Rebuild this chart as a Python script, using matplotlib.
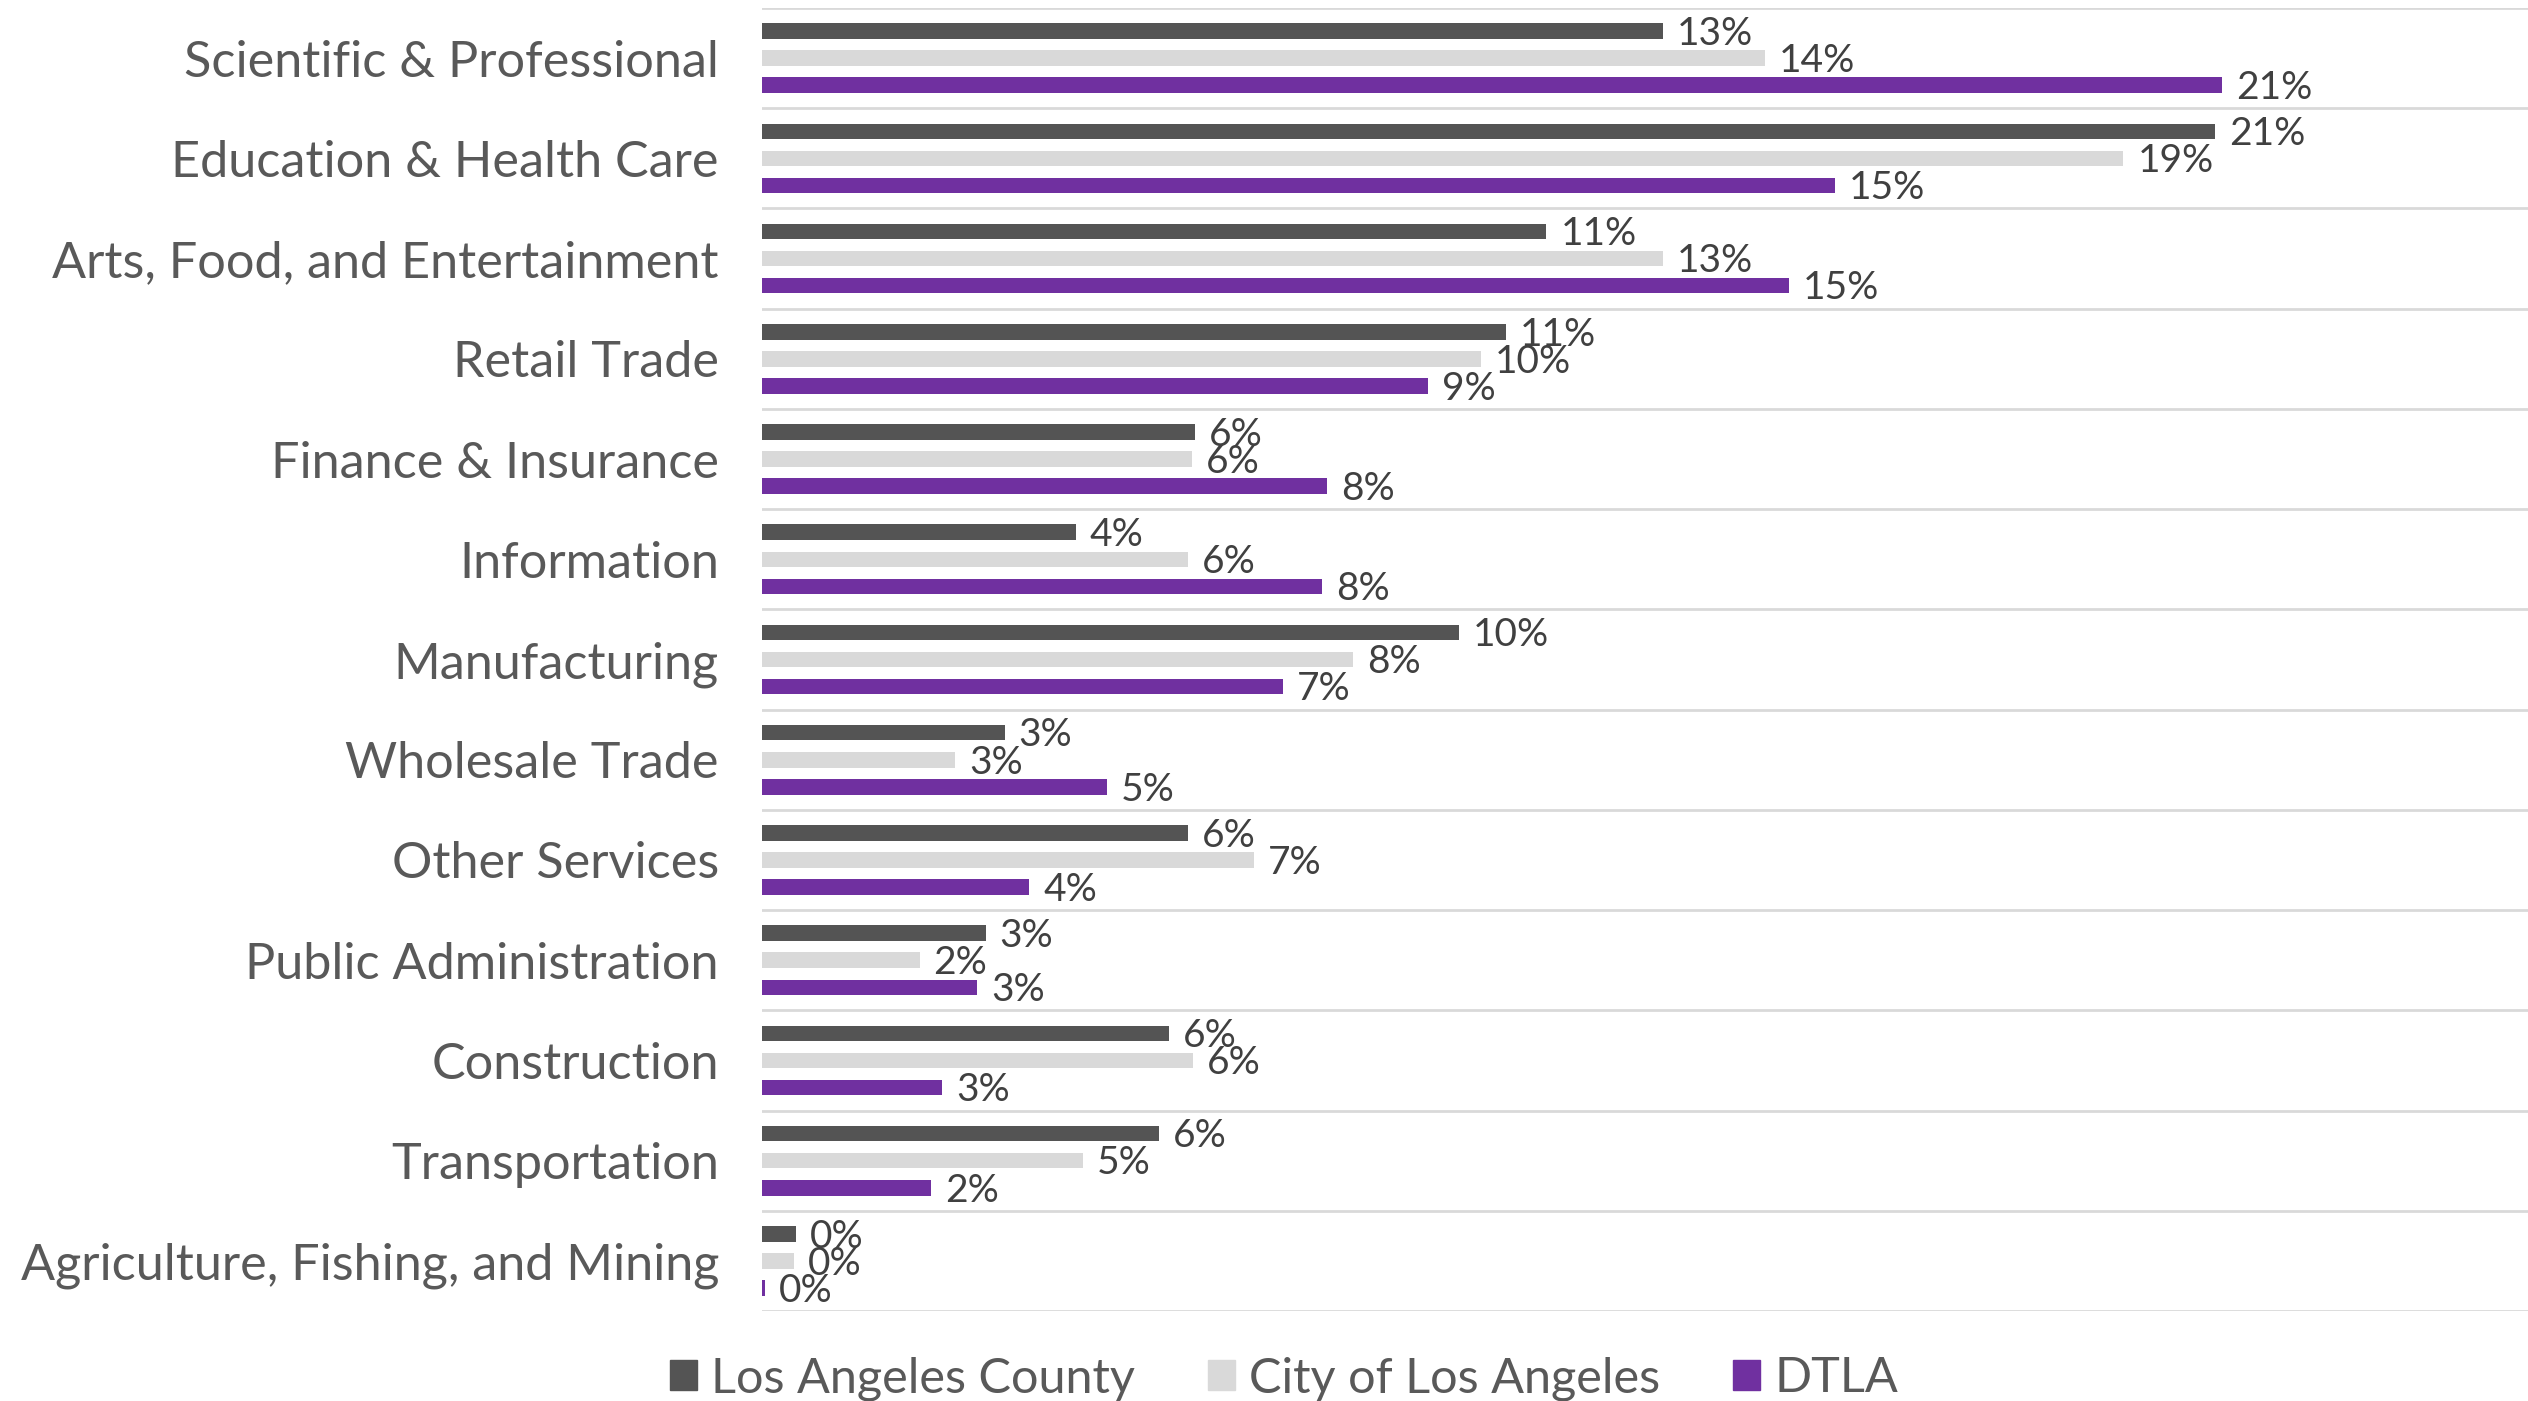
import numpy as np
import matplotlib
matplotlib.use("Agg")
import matplotlib.pyplot as plt
from matplotlib.patches import Patch

# --------------------------------------------------------------------------
# data (share of jobs, %)
# --------------------------------------------------------------------------
categories = [
    "Scientific & Professional",
    "Education & Health Care",
    "Arts, Food, and Entertainment",
    "Retail Trade",
    "Finance & Insurance",
    "Information",
    "Manufacturing",
    "Wholesale Trade",
    "Other Services",
    "Public Administration",
    "Construction",
    "Transportation",
    "Agriculture, Fishing, and Mining",
]
la_county = [12.8, 20.65, 11.15, 10.57, 6.15, 4.46, 9.9, 3.45, 6.05, 3.18, 5.78, 5.64, 0.48]
la_city = [14.25, 19.35, 12.8, 10.22, 6.11, 6.06, 8.4, 2.75, 7.0, 2.24, 6.12, 4.56, 0.45]
dtla = [20.75, 15.25, 14.6, 9.47, 8.03, 7.96, 7.4, 4.9, 3.8, 3.06, 2.56, 2.4, 0.05]

series = [("Los Angeles County", la_county, "#545454"),
          ("City of Los Angeles", la_city, "#d9d9d9"),
          ("DTLA", dtla, "#7030a0")]

plt.rcParams["font.family"] = ["Lato", "DejaVu Sans"]

fig = plt.figure(figsize=(25.28, 14.01), dpi=100)
ax = fig.add_axes([0.3014, 0.0642, 0.6986, 0.9301])

y = np.arange(len(categories))
offsets = [-0.27, 0.0, 0.27]
bar_h = 0.155

for (name, vals, col), off in zip(series, offsets):
    v = np.asarray(vals) / 100.0
    ax.barh(y + off, v, height=bar_h, color=col, label=name, zorder=3)
    for yi, vi in zip(y + off, v):
        ax.annotate(f"{vi:.0%}", (vi, yi), xytext=(10, -2), textcoords="offset points",
                    ha="left", va="center", fontsize=28, color="#404040", zorder=4)

ax.set_ylim(len(categories) - 0.5, -0.5)
ax.set_xlim(0, 0.251)
ax.set_yticks(y)
ax.set_yticklabels(categories, fontsize=36.3, color="#595959")
ax.set_yticks(np.arange(-0.5, len(categories)), minor=True)
ax.tick_params(axis="y", which="both", length=0, pad=31)
ax.set_xticks([])
ax.grid(which="minor", axis="y", color="#d9d9d9", lw=2.0, zorder=0)
for s in ax.spines.values():
    s.set_visible(False)

handles = [Patch(color=c) for _, _, c in series]
fig.legend(handles, [n for n, _, _ in series], loc="center", bbox_to_anchor=(0.508, 0.016),
           ncol=3, frameon=False, fontsize=35, labelcolor="#595959",
           handlelength=0.55, handleheight=0.55, handletextpad=0.3, columnspacing=1.5)

fig.savefig("out.png", dpi=100)
